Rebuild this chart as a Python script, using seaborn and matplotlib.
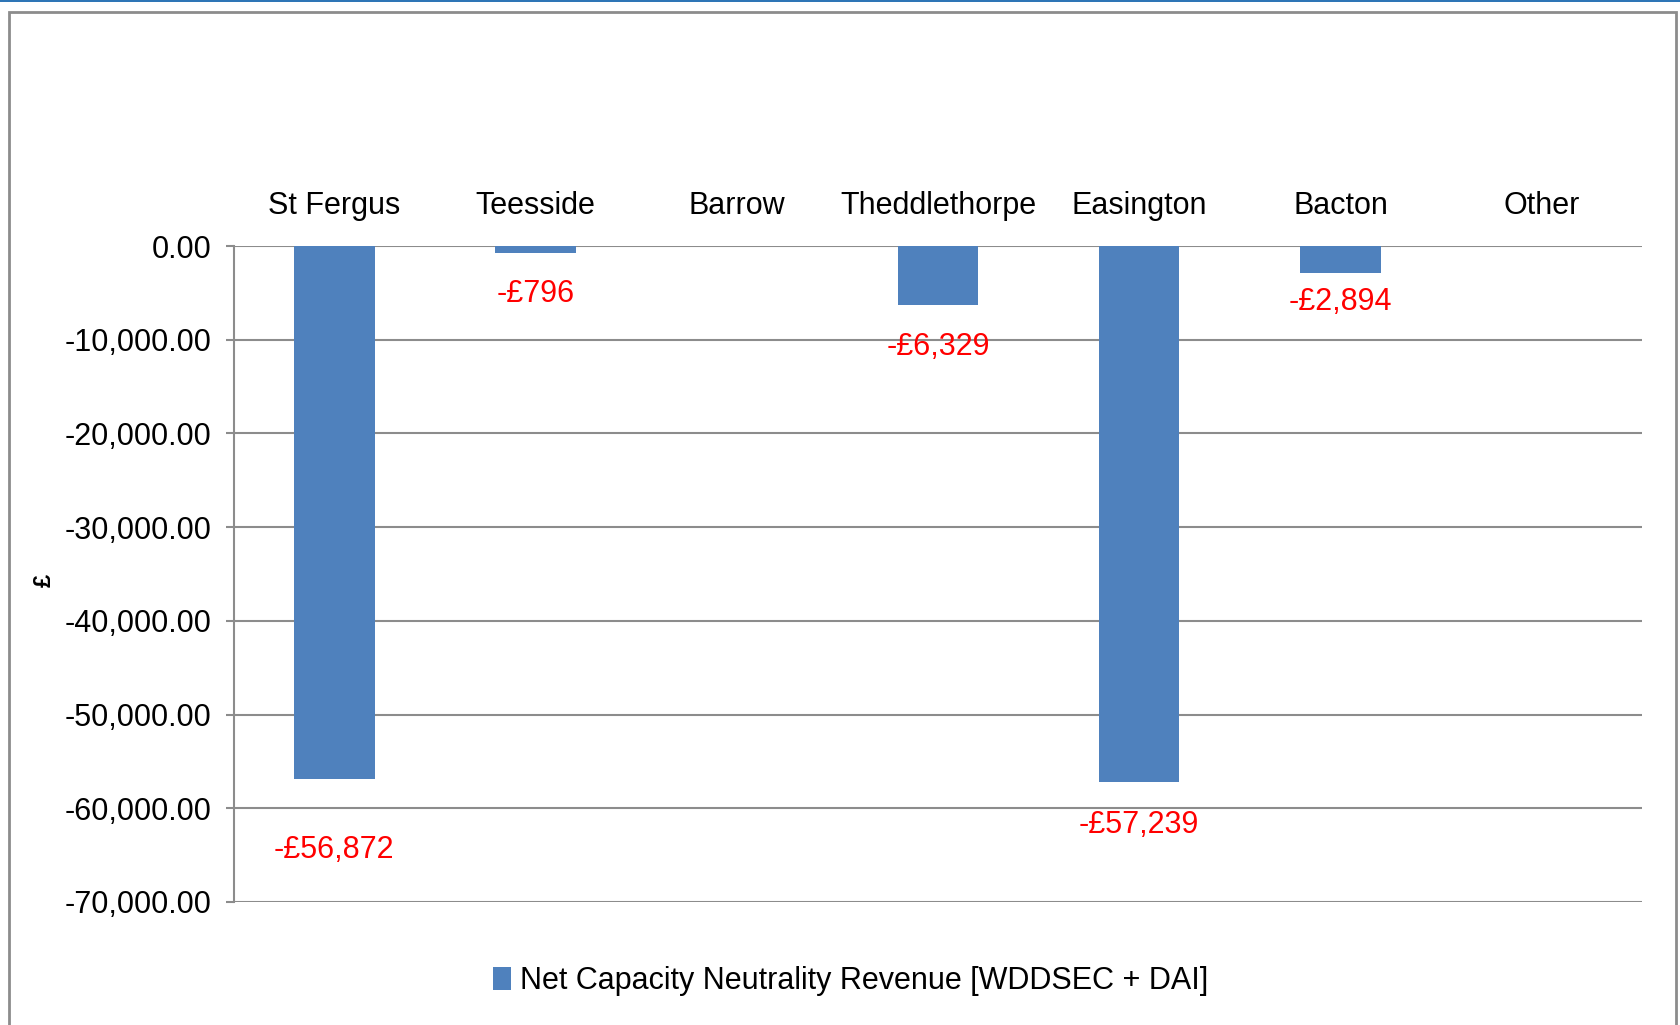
import matplotlib
matplotlib.use("Agg")
import matplotlib.pyplot as plt
import seaborn as sns
import pandas as pd
from matplotlib.patches import Rectangle
from matplotlib.ticker import FuncFormatter

sns.set_theme(style="white")
plt.rcParams['font.family'] = ['Liberation Sans', 'DejaVu Sans']
plt.rcParams['text.color'] = 'black'

# Dados
terminals = ['St Fergus', 'Teesside', 'Barrow', 'Theddlethorpe', 'Easington', 'Bacton', 'Other']
revenue = [-56872, -796, 0, -6329, -57239, -2894, 0]
series_name = 'Net Capacity Neutrality Revenue [WDDSEC + DAI]'

# deslocamento dos rótulos (pontos abaixo da barra), como no Excel
label_offsets = [-51, -29, 0, -30, -31, -21, 0]

df = pd.DataFrame({'Terminal': terminals, 'Revenue': revenue})

bar_color = '#4F81BD'
grid_color = '#8C8C8C'

fig = plt.figure(figsize=(16.81, 10.25), dpi=100)
ax = fig.add_axes([0.139, 0.120, 0.838, 0.640])

sns.barplot(data=df, x='Terminal', y='Revenue', color=bar_color, width=0.4,
            saturation=1, ax=ax, label=series_name, linewidth=0, edgecolor='none')

ax.set_ylim(-70000, 0)
ax.set_yticks(range(-70000, 1, 10000))
ax.yaxis.set_major_formatter(FuncFormatter(lambda v, p: f'{v:,.2f}'))
ax.tick_params(axis='y', labelsize=22, length=6, width=1.5, color=grid_color,
               direction='out', left=True, pad=10, labelcolor='black')
ax.yaxis.grid(True, color=grid_color, linewidth=1.5)
ax.set_axisbelow(True)

ax.xaxis.tick_top()
ax.tick_params(axis='x', labelsize=22, length=0, pad=18, labelcolor='black')
ax.set_xlabel('')
ax.set_ylabel('£', fontsize=17, fontweight='bold', color='black')
ax.yaxis.set_label_coords(-0.126, 0.49)

for s in ['top', 'right', 'bottom']:
    ax.spines[s].set_visible(False)
ax.spines['left'].set_color(grid_color)
ax.spines['left'].set_linewidth(1.5)

# Rótulos dos valores
for i, v in enumerate(revenue):
    if v == 0:
        continue
    ax.annotate(f'-£{abs(v):,}', xy=(i, v), xytext=(0, label_offsets[i]),
                textcoords='offset points', ha='center', va='center',
                color='#FF0000', fontsize=22)

leg = ax.legend(loc='center', bbox_to_anchor=(0.506, 0.043), bbox_transform=fig.transFigure,
                frameon=False, fontsize=22, handlelength=0.6, handleheight=0.8,
                handletextpad=0.3)
for t in leg.get_texts():
    t.set_color('black')

# Moldura externa
fig.patches.append(Rectangle((9 / 1681, -0.05), 1667 / 1681, 1.05 - 12 / 1025,
                             transform=fig.transFigure, fill=False,
                             edgecolor='#8C8C8C', linewidth=2))
fig.patches.append(Rectangle((0, 1 - 2 / 1025), 1, 2 / 1025, transform=fig.transFigure,
                             color='#2E75B6', linewidth=0))

fig.savefig('out.png', dpi=100)
plt.close(fig)
